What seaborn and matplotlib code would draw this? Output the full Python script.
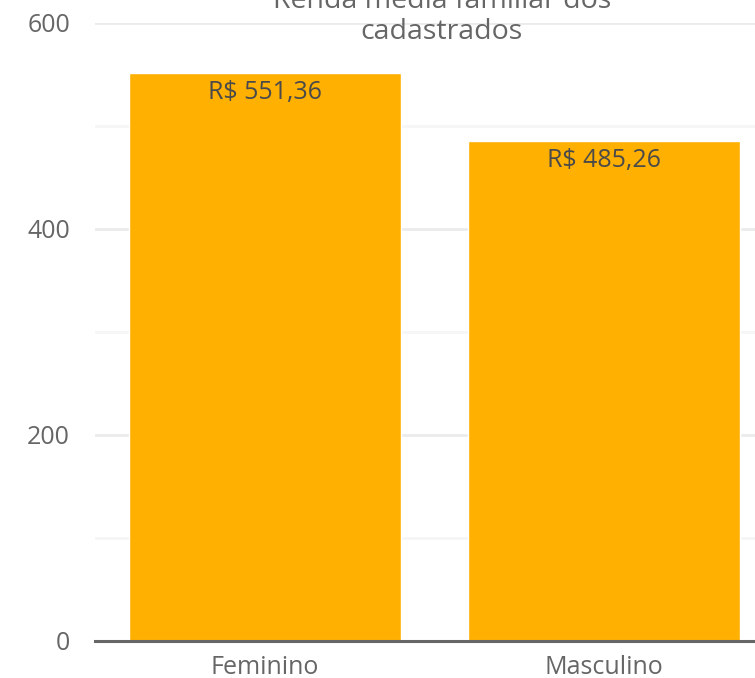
import matplotlib
matplotlib.use("Agg")
import matplotlib.pyplot as plt
import seaborn as sns
from matplotlib.ticker import MultipleLocator

categories = ["Feminino", "Masculino"]
values = [551.36, 485.26]
labels = ["R$ 551,36", "R$ 485,26"]

BAR_COLOR = "#FFB000"
TEXT_GREY = "#666666"

sns.set_theme(style="white")
plt.rcParams["font.family"] = ["Open Sans", "DejaVu Sans"]

fig = plt.figure(figsize=(7.55, 6.78), dpi=100)
ax = fig.add_axes([95 / 755, 37 / 678, (774 - 95) / 755, 618 / 678])

sns.barplot(x=categories, y=values, color=BAR_COLOR, saturation=1, width=0.8, ax=ax)

for i, (v, lab) in enumerate(zip(values, labels)):
    ax.annotate(lab, (i, v), xytext=(0, -5), textcoords="offset points",
                ha="center", va="top", fontsize=18, color="#4a4a4a")

ax.set_ylim(0, 600)
ax.set_xlim(-0.5, 1.5)
ax.yaxis.set_major_locator(MultipleLocator(200))
ax.yaxis.set_minor_locator(MultipleLocator(100))
ax.grid(axis="y", which="major", color="#ebebeb", lw=2)
ax.grid(axis="y", which="minor", color="#f6f6f6", lw=2)
ax.set_axisbelow(True)

for s in ["top", "right", "left"]:
    ax.spines[s].set_visible(False)
ax.spines["bottom"].set_color("#666666")
ax.spines["bottom"].set_linewidth(2.2)
ax.spines["bottom"].set_zorder(5)

ax.tick_params(axis="y", which="both", length=0, pad=18, labelsize=18, labelcolor=TEXT_GREY)
ax.tick_params(axis="x", length=0, pad=10, labelsize=18, labelcolor=TEXT_GREY)
ax.set_xlabel("")
ax.set_ylabel("")

fig.text(442 / 755, 1 - 46 / 678, "Renda média familiar dos\ncadastrados",
         ha="center", va="bottom", fontsize=20.5, color=TEXT_GREY, linespacing=1.15)

fig.savefig("out.png", dpi=100)
plt.close(fig)
